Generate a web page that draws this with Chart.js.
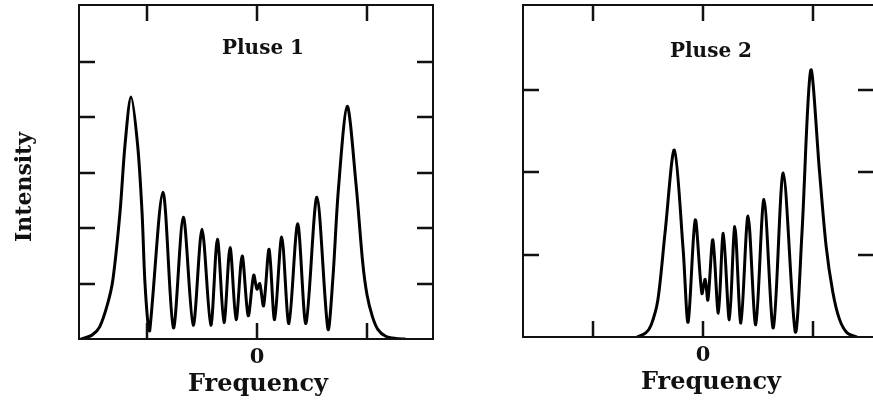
<!DOCTYPE html>
<html>
<head>
<meta charset="utf-8">
<script src="https://cdn.jsdelivr.net/npm/chart.js@4.4.1/dist/chart.umd.min.js"></script>
<style>
  html, body { margin: 0; padding: 0; background: #fff; overflow: hidden; }
  #wrap { position: relative; width: 873px; height: 402px; overflow: hidden; }
  canvas { position: absolute; top: 0; }
  #c1 { left: 0; }
  #c2 { left: 440px; }
</style>
</head>
<body>
<div id="wrap">
  <canvas id="c1" width="440" height="402"></canvas>
  <canvas id="c2" width="440" height="402"></canvas>
</div>
<script>
// pulse 1 spectrum (frequency, intensity)
const pulse1Freq = [
  -1.60, -1.50, -1.43, -1.36, -1.31, -1.245, -1.20, -1.145, -1.085, -1.045, -1.02, -0.99, -0.975,
  -0.855, -0.76, -0.67, -0.58, -0.50, -0.42, -0.36, -0.30, -0.245, -0.19, -0.135, -0.08,
  -0.03, 0.00, 0.025, 0.06, 0.11, 0.16, 0.225, 0.29, 0.37, 0.445, 0.545, 0.645,
  0.69, 0.74, 0.82, 0.90, 0.96, 1.00, 1.05, 1.10, 1.17, 1.26, 1.35
];
const pulse1Int = [
  0.00, 0.07, 0.22, 0.62, 1.07, 2.29, 3.50, 4.37, 3.50, 2.29, 1.07, 0.25, 0.15,
  2.65, 0.20, 2.20, 0.25, 1.98, 0.25, 1.80, 0.30, 1.65, 0.35, 1.50, 0.42,
  1.15, 0.90, 1.00, 0.60, 1.62, 0.35, 1.84, 0.28, 2.08, 0.28, 2.56, 0.18,
  1.10, 2.70, 4.20, 2.80, 1.40, 0.80, 0.40, 0.17, 0.05, 0.01, 0.00
];

// pulse 2 spectrum
const pulse2Freq = [
  -0.60, -0.52, -0.47, -0.41, -0.345, -0.26, -0.18, -0.135,
  -0.07, -0.01, 0.02, 0.045, 0.09, 0.14, 0.185, 0.24, 0.29, 0.345, 0.41, 0.48,
  0.555, 0.64, 0.73, 0.84, 0.90, 0.98, 1.06, 1.12, 1.18,
  1.24, 1.31, 1.40
];
const pulse2Int = [
  0.00, 0.05, 0.15, 0.45, 1.26, 2.27, 1.06, 0.18,
  1.42, 0.53, 0.70, 0.45, 1.18, 0.29, 1.26, 0.21, 1.34, 0.17, 1.47, 0.15,
  1.67, 0.11, 1.99, 0.06, 1.26, 3.24, 2.00, 1.10, 0.55,
  0.22, 0.05, 0.00
];

const freqTicks = [-1, 0, 1];
const pulse1IntTicks = [1, 2, 3, 4, 5];
const pulse2IntTicks = [1, 2, 3];
const panelTitles = ['Pluse 1', 'Pluse 2'];
const xAxisLabel = 'Frequency';
const yAxisLabel = 'Intensity';
const zeroLabel = '0';

const SERIF = '"DejaVu Serif", "Liberation Serif", serif';

// frame, inward ticks and labels
const framePlugin = {
  id: 'frame',
  afterDraw(chart, args, opts) {
    const { ctx, chartArea: a, scales } = chart;
    const L = 16;
    ctx.save();
    ctx.strokeStyle = '#111';
    ctx.lineWidth = 2;
    ctx.strokeRect(a.left, a.top, a.right - a.left, a.bottom - a.top);

    ctx.lineWidth = 2.5;
    ctx.beginPath();
    opts.xTicks.forEach(v => {
      const px = Math.round(scales.x.getPixelForValue(v));
      ctx.moveTo(px, a.top);    ctx.lineTo(px, a.top + L);
      ctx.moveTo(px, a.bottom); ctx.lineTo(px, a.bottom - L);
    });
    opts.yTicks.forEach(v => {
      const py = Math.round(scales.y.getPixelForValue(v));
      ctx.moveTo(a.left, py);  ctx.lineTo(a.left + L, py);
      ctx.moveTo(a.right, py); ctx.lineTo(a.right - L, py);
    });
    ctx.stroke();

    ctx.fillStyle = '#111';
    ctx.textAlign = 'center';
    ctx.textBaseline = 'middle';
    ctx.font = 'bold 20px ' + SERIF;
    ctx.fillText(opts.title, opts.titleX, opts.titleY);
    ctx.font = 'bold 21px ' + SERIF;
    ctx.fillText(zeroLabel, scales.x.getPixelForValue(0), a.bottom + 19);
    ctx.font = 'bold 24px ' + SERIF;
    ctx.fillText(xAxisLabel, opts.xLabelX, a.bottom + 46);
    if (opts.yLabel) {
      ctx.translate(opts.yLabelX, opts.yLabelY);
      ctx.rotate(-Math.PI / 2);
      ctx.font = 'bold 22px ' + SERIF;
      ctx.fillText(opts.yLabel, 0, 0);
    }
    ctx.restore();
  }
};

function makePanel(id, xs, ys, xMin, xMax, yMax, padding, frameOpts) {
  const ctx = document.getElementById(id).getContext('2d');
  return new Chart(ctx, {
    type: 'scatter',
    data: {
      datasets: [{
        data: xs.map((x, i) => ({ x, y: ys[i] })),
        showLine: true,
        borderColor: '#000',
        borderWidth: 3,
        pointRadius: 0,
        tension: 0.3,
        fill: false,
      }]
    },
    options: {
      responsive: false,
      animation: false,
      layout: { padding },
      plugins: {
        legend: { display: false },
        tooltip: { enabled: false },
        frame: frameOpts,
      },
      scales: {
        x: { type: 'linear', min: xMin, max: xMax, display: false },
        y: { type: 'linear', min: 0, max: yMax, display: false },
      },
    },
    plugins: [framePlugin],
  });
}

makePanel('c1', pulse1Freq, pulse1Int, -1.618, 1.6, 6.03,
  { left: 79, top: 5, right: 7, bottom: 63 },
  { xTicks: freqTicks, yTicks: pulse1IntTicks, title: panelTitles[0],
    titleX: 263, titleY: 49, xLabelX: 258,
    yLabel: yAxisLabel, yLabelX: 25, yLabelY: 187 });

makePanel('c2', pulse2Freq, pulse2Int, -1.636, 1.555, 4.03,
  { left: 83, top: 5, right: 6, bottom: 65 },
  { xTicks: freqTicks, yTicks: pulse2IntTicks, title: panelTitles[1],
    titleX: 271, titleY: 52, xLabelX: 271 });
</script>
</body>
</html>
